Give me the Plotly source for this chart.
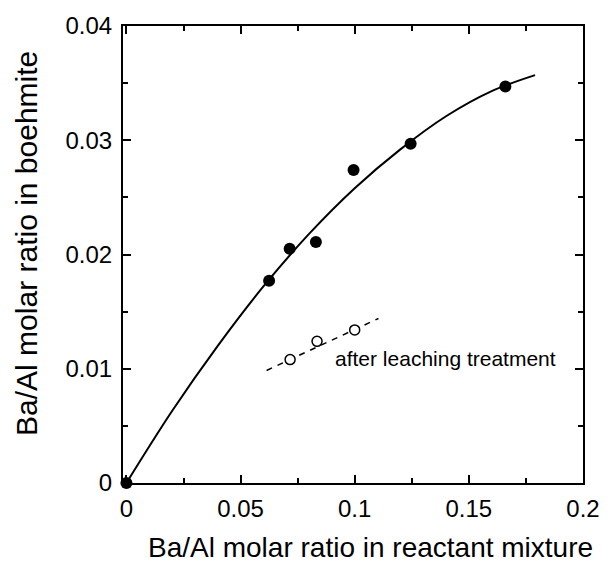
import plotly.graph_objects as go

# Filled points: Ba/Al in reactant mixture vs Ba/Al in boehmite
x_filled = [0.0, 0.0625, 0.0715, 0.083, 0.0995, 0.1245, 0.166]
y_filled = [0.0, 0.0177, 0.0205, 0.0211, 0.0274, 0.0297, 0.0347]

# Fitted curve
x_curve = [0.0, 0.02, 0.04, 0.06, 0.08, 0.10, 0.12, 0.14, 0.16, 0.179]
y_curve = [0.0, 0.0063, 0.0120, 0.0172, 0.0218, 0.0258, 0.0292, 0.0321, 0.0343, 0.0357]

# Open points: after leaching treatment
x_open = [0.0717, 0.0835, 0.100]
y_open = [0.0108, 0.0124, 0.0134]

# Dashed guide line through open points
x_dash = [0.0614, 0.1104]
y_dash = [0.00985, 0.0144]

x_ticks = [0, 0.05, 0.1, 0.15, 0.2]
x_ticktext = ["0", "0.05", "0.1", "0.15", "0.2"]
y_ticks = [0, 0.01, 0.02, 0.03, 0.04]
y_ticktext = ["0", "0.01", "0.02", "0.03", "0.04"]

FONT = "Liberation Sans, Arial, Helvetica, sans-serif"

fig = go.Figure()
fig.add_trace(go.Scatter(x=x_curve, y=y_curve, mode="lines",
                         line=dict(color="black", width=2, shape="spline"),
                         hoverinfo="skip", cliponaxis=False))
fig.add_trace(go.Scatter(x=x_dash, y=y_dash, mode="lines",
                         line=dict(color="black", width=1.5, dash="6px,6px"),
                         hoverinfo="skip"))
fig.add_trace(go.Scatter(x=x_filled, y=y_filled, mode="markers",
                         marker=dict(color="black", size=12, line=dict(width=0)),
                         cliponaxis=False))
fig.add_trace(go.Scatter(x=x_open, y=y_open, mode="markers",
                         marker=dict(color="white", size=10,
                                     line=dict(color="black", width=1.5))))

fig.add_annotation(x=0.0905, y=0.01086, xref="x", yref="y",
                   text="after leaching treatment", showarrow=False,
                   xanchor="left", yanchor="middle",
                   font=dict(family=FONT, size=21, color="black"))
fig.add_annotation(x=0.537, y=-0.142, xref="paper", yref="paper",
                   text="Ba/Al molar ratio in reactant mixture", showarrow=False,
                   xanchor="center", yanchor="middle",
                   font=dict(family=FONT, size=28, color="black"))
fig.add_annotation(x=-0.2100, y=0.524, xref="paper", yref="paper",
                   text="Ba/Al molar ratio in boehmite", showarrow=False,
                   textangle=-90, xanchor="center", yanchor="middle",
                   font=dict(family=FONT, size=30, color="black"))

axis_common = dict(showgrid=False, zeroline=False, showline=True,
                   linecolor="black", linewidth=2, mirror="ticks",
                   ticks="inside", ticklen=8, tickwidth=1.5, tickcolor="black",
                   tickfont=dict(family=FONT, size=24, color="black"))

fig.update_xaxes(range=[-0.0015, 0.2], tickvals=x_ticks, ticktext=x_ticktext,
                 minor=dict(ticks="inside", dtick=0.025, tick0=0, ticklen=5,
                            tickwidth=1.5, tickcolor="black"),
                 ticklabelstandoff=3, **axis_common)
fig.update_yaxes(range=[0, 0.04], tickvals=y_ticks, ticktext=y_ticktext,
                 minor=dict(ticks="inside", dtick=0.005, tick0=0, ticklen=5,
                            tickwidth=1.5, tickcolor="black"),
                 ticklabelstandoff=4, **axis_common)

fig.update_layout(width=616, height=564,
                  margin=dict(l=123, r=33, t=19, b=81),
                  paper_bgcolor="white", plot_bgcolor="white",
                  showlegend=False)

fig.write_html("out.html")
